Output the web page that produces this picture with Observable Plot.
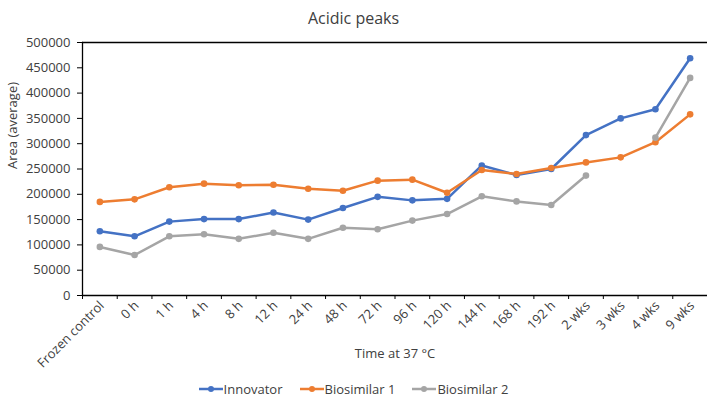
<!DOCTYPE html>
<html>
<head>
<meta charset="utf-8">
<script src="https://cdn.jsdelivr.net/npm/d3@7"></script>
<script src="https://cdn.jsdelivr.net/npm/@observablehq/plot@0.6"></script>
<style>
  html, body { margin: 0; background: #fff; overflow: hidden; }
  body { font-family: "Open Sans", sans-serif; color: #404040; }
  #title { width: 707px; height: 34px; line-height: 36px; text-align: center; font-size: 16px; }
  #chart svg { display: block; }
  #legend { width: 707px; height: 25px; display: flex; justify-content: center; align-items: center; gap: 17px; font-size: 13px; padding-top: 4px; }
  #legend span { display: flex; align-items: center; gap: 1px; }
</style>
</head>
<body>
<div id="title">Acidic peaks</div>
<div id="chart"></div>
<div id="legend"></div>
<script>
const times = ["Frozen control", "0 h", "1 h", "4 h", "8 h", "12 h", "24 h", "48 h", "72 h", "96 h",
  "120 h", "144 h", "168 h", "192 h", "2 wks", "3 wks", "4 wks", "9 wks"];
const innovator = [127000, 117000, 146000, 151000, 151000, 164000, 150000, 173000, 195000, 188000,
  191000, 257000, 238000, 250000, 317000, 350000, 368000, 469000];
const biosimilar1 = [185000, 190000, 214000, 221000, 218000, 219000, 211000, 207000, 227000, 229000,
  203000, 248000, 240000, 252000, 263000, 273000, 303000, 358000];
const biosimilar2 = [96000, 80000, 117000, 121000, 112000, 124000, 112000, 134000, 131000, 148000,
  161000, 196000, 186000, 179000, 237000, null, 312000, 430000];
const seriesNames = ["Innovator", "Biosimilar 1", "Biosimilar 2"];
const seriesColors = ["#4472C4", "#ED7D31", "#A5A5A5"];
const yTicks = d3.range(0, 500001, 50000);

const rows = [];
[innovator, biosimilar1, biosimilar2].forEach((vals, i) =>
  vals.forEach((v, j) => rows.push({series: seriesNames[i], time: times[j], value: v})));

const W = 707, mL = 82, mR = 0;
const half = (W - mL - mR) / times.length / 2;

const chart = Plot.plot({
  width: W,
  height: 338,
  marginTop: 8,
  marginBottom: 77,
  marginLeft: mL,
  marginRight: mR,
  style: {fontFamily: "Open Sans", fontSize: "13px", color: "#404040", background: "#fff"},
  x: {type: "band", domain: times, padding: 0, round: false, label: null},
  y: {domain: [0, 500000], label: null},
  color: {domain: seriesNames, range: seriesColors},
  marks: [
    Plot.axisY({ticks: yTicks, tickSize: 5, tickPadding: 7, tickFormat: d3.format("d"), stroke: "#000", strokeOpacity: 1}),
    Plot.axisX({tickSize: 4, tickFormat: () => "", dx: -half, stroke: "#000", strokeOpacity: 1}),
    Plot.axisX({tickSize: 0, tickRotate: -45, tickPadding: 8, dx: 2}),
    Plot.ruleY([0, 500000], {stroke: "#000", strokeWidth: 1.3}),
    Plot.frame({anchor: "left", stroke: "#000", strokeWidth: 1.3}),
    Plot.line(rows, {x: "time", y: "value", stroke: "series", strokeWidth: 2.5}),
    Plot.dot(rows, {x: "time", y: "value", fill: "series", r: 3.3}),
    Plot.text(["Time at 37 °C"], {frameAnchor: "bottom", dy: 62, fontSize: 13}),
    Plot.text(["Area (average)"], {frameAnchor: "left", rotate: -90, dx: -70, fontSize: 13})
  ]
});
d3.select("#chart").append(() => chart);

// legend
const legend = d3.select("#legend");
seriesNames.forEach((name, i) => {
  const item = legend.append("span");
  const sw = item.append("svg").attr("width", 24).attr("height", 10);
  sw.append("line").attr("x1", 0).attr("x2", 24).attr("y1", 5).attr("y2", 5)
    .attr("stroke", seriesColors[i]).attr("stroke-width", 2.5);
  sw.append("circle").attr("cx", 12).attr("cy", 5).attr("r", 3).attr("fill", seriesColors[i]);
  item.append("span").text(name);
});
</script>
</body>
</html>
